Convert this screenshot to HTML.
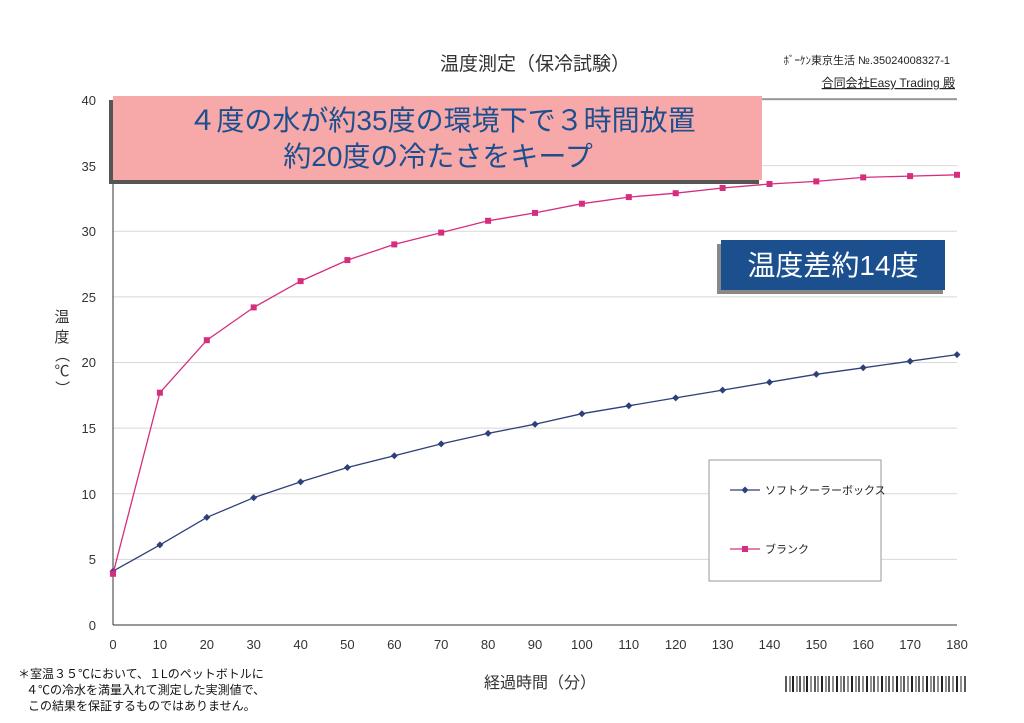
<!DOCTYPE html>
<html><head><meta charset="utf-8"><style>
html,body{margin:0;padding:0;background:#fff;}
svg{display:block;font-family:"Liberation Sans","Noto Sans CJK JP",sans-serif;}
</style></head><body>
<svg width="1024" height="723" viewBox="0 0 1024 723" xmlns="http://www.w3.org/2000/svg">
<rect width="1024" height="723" fill="#fff"/>
<text x="535" y="70" font-size="19" text-anchor="middle" fill="#333">温度測定（保冷試験）</text>
<text x="950" y="64" font-size="11" text-anchor="end" fill="#222">ﾎﾞｰｹﾝ東京生活 №.35024008327-1</text>
<text x="955" y="87" font-size="12" text-anchor="end" fill="#222" text-decoration="underline">合同会社Easy Trading 殿</text>
<line x1="762" y1="99" x2="957" y2="99" stroke="#555" stroke-width="1"/>
<!-- grid -->
<g stroke="#d8d8d8" stroke-width="1">
<line x1="113" y1="559.4" x2="957" y2="559.4"/><line x1="113" y1="493.8" x2="957" y2="493.8"/>
<line x1="113" y1="428.1" x2="957" y2="428.1"/><line x1="113" y1="362.5" x2="957" y2="362.5"/>
<line x1="113" y1="296.9" x2="957" y2="296.9"/><line x1="113" y1="231.3" x2="957" y2="231.3"/>
<line x1="113" y1="165.6" x2="957" y2="165.6"/><line x1="113" y1="100" x2="957" y2="100"/>
</g>
<line x1="113" y1="100" x2="113" y2="625" stroke="#333"/>
<line x1="113" y1="625" x2="957" y2="625" stroke="#333"/>
<g font-size="13" fill="#333" text-anchor="end">
<text x="96" y="630">0</text><text x="96" y="564">5</text><text x="96" y="499">10</text>
<text x="96" y="433">15</text><text x="96" y="367">20</text><text x="96" y="302">25</text>
<text x="96" y="236">30</text><text x="96" y="171">35</text><text x="96" y="105">40</text>
</g>
<g font-size="13" fill="#333" text-anchor="middle">
<text x="113" y="649">0</text><text x="159.9" y="649">10</text><text x="206.8" y="649">20</text>
<text x="253.7" y="649">30</text><text x="300.6" y="649">40</text><text x="347.4" y="649">50</text>
<text x="394.3" y="649">60</text><text x="441.2" y="649">70</text><text x="488.1" y="649">80</text>
<text x="535" y="649">90</text><text x="581.9" y="649">100</text><text x="628.8" y="649">110</text>
<text x="675.7" y="649">120</text><text x="722.6" y="649">130</text><text x="769.5" y="649">140</text>
<text x="816.3" y="649">150</text><text x="863.2" y="649">160</text><text x="910.1" y="649">170</text>
<text x="957" y="649">180</text>
</g>
<g font-size="15" fill="#333" text-anchor="middle">
<text x="62" y="322">温</text><text x="62" y="342">度</text>
<text x="62" y="360" transform="rotate(90 62 355)">（</text>
<text x="62" y="376">℃</text>
<text x="62" y="393" transform="rotate(90 62 388)">）</text>
</g>
<text x="540" y="688" font-size="16" text-anchor="middle" fill="#333">経過時間（分）</text>
<!-- series -->
<polyline fill="none" stroke="#2e3f7a" stroke-width="1.3" points="113,571.2 159.9,544.9 206.8,517.4 253.7,497.7 300.6,481.9 347.4,467.5 394.3,455.7 441.2,443.9 488.1,433.4 535,424.2 581.9,413.7 628.8,405.8 675.7,397.9 722.6,390.1 769.5,382.2 816.3,374.3 863.2,367.8 910.1,361.2 957,354.6"/>
<g fill="#2e3f7a">
<path d="M113 567.7l3.5 3.5-3.5 3.5-3.5-3.5z"/><path d="M159.9 541.4l3.5 3.5-3.5 3.5-3.5-3.5z"/><path d="M206.8 513.9l3.5 3.5-3.5 3.5-3.5-3.5z"/><path d="M253.7 494.2l3.5 3.5-3.5 3.5-3.5-3.5z"/><path d="M300.6 478.4l3.5 3.5-3.5 3.5-3.5-3.5z"/><path d="M347.4 464l3.5 3.5-3.5 3.5-3.5-3.5z"/><path d="M394.3 452.2l3.5 3.5-3.5 3.5-3.5-3.5z"/><path d="M441.2 440.4l3.5 3.5-3.5 3.5-3.5-3.5z"/><path d="M488.1 429.9l3.5 3.5-3.5 3.5-3.5-3.5z"/><path d="M535 420.7l3.5 3.5-3.5 3.5-3.5-3.5z"/><path d="M581.9 410.2l3.5 3.5-3.5 3.5-3.5-3.5z"/><path d="M628.8 402.3l3.5 3.5-3.5 3.5-3.5-3.5z"/><path d="M675.7 394.4l3.5 3.5-3.5 3.5-3.5-3.5z"/><path d="M722.6 386.6l3.5 3.5-3.5 3.5-3.5-3.5z"/><path d="M769.5 378.7l3.5 3.5-3.5 3.5-3.5-3.5z"/><path d="M816.3 370.8l3.5 3.5-3.5 3.5-3.5-3.5z"/><path d="M863.2 364.3l3.5 3.5-3.5 3.5-3.5-3.5z"/><path d="M910.1 357.7l3.5 3.5-3.5 3.5-3.5-3.5z"/><path d="M957 351.1l3.5 3.5-3.5 3.5-3.5-3.5z"/>
</g>
<polyline fill="none" stroke="#d62d7f" stroke-width="1.3" points="113,573.8 159.9,392.7 206.8,340.2 253.7,307.4 300.6,281.1 347.4,260.1 394.3,244.4 441.2,232.6 488.1,220.8 535,212.9 581.9,203.7 628.8,197.1 675.7,193.2 722.6,188 769.5,184 816.3,181.4 863.2,177.4 910.1,176.1 957,174.8"/>
<g fill="#d62d7f">
<rect x="110" y="570.8" width="6" height="6"/><rect x="156.9" y="389.7" width="6" height="6"/><rect x="203.8" y="337.2" width="6" height="6"/><rect x="250.7" y="304.4" width="6" height="6"/><rect x="297.6" y="278.1" width="6" height="6"/><rect x="344.4" y="257.1" width="6" height="6"/><rect x="391.3" y="241.4" width="6" height="6"/><rect x="438.2" y="229.6" width="6" height="6"/><rect x="485.1" y="217.8" width="6" height="6"/><rect x="532" y="209.9" width="6" height="6"/><rect x="578.9" y="200.7" width="6" height="6"/><rect x="625.8" y="194.1" width="6" height="6"/><rect x="672.7" y="190.2" width="6" height="6"/><rect x="719.6" y="185" width="6" height="6"/><rect x="766.5" y="181" width="6" height="6"/><rect x="813.3" y="178.4" width="6" height="6"/><rect x="860.2" y="174.4" width="6" height="6"/><rect x="907.1" y="173.1" width="6" height="6"/><rect x="954" y="171.8" width="6" height="6"/>
</g>
<!-- legend -->
<rect x="709" y="460" width="172" height="121" fill="#fff" stroke="#999"/>
<line x1="730" y1="490" x2="760" y2="490" stroke="#2e3f7a" stroke-width="1.3"/>
<path d="M745 486.5l3.5 3.5-3.5 3.5-3.5-3.5z" fill="#2e3f7a"/>
<text x="765" y="494" font-size="11" fill="#222">ソフトクーラーボックス</text>
<line x1="730" y1="549" x2="760" y2="549" stroke="#d62d7f" stroke-width="1.3"/>
<rect x="742" y="546" width="6" height="6" fill="#d62d7f"/>
<text x="765" y="553" font-size="11" fill="#222">ブランク</text>
<!-- pink callout -->
<rect x="109" y="100" width="650" height="84" fill="#555"/>
<rect x="113" y="96" width="649" height="84" fill="#f7a8a8"/>
<g font-size="28" fill="#1c4f8f" text-anchor="middle">
<text x="442" y="130">４度の水が約35度の環境下で３時間放置</text>
<text x="438" y="166">約20度の冷たさをキープ</text>
</g>
<!-- blue callout -->
<rect x="717" y="244" width="226" height="50" fill="#888"/>
<rect x="721" y="240" width="224" height="50" fill="#1b4f8e"/>
<text x="833" y="275" font-size="28" fill="#fff" text-anchor="middle">温度差約14度</text>
<!-- footnote -->
<g font-size="12" fill="#111">
<text x="18" y="678">＊室温３５℃において、１Lのペットボトルに</text>
<text x="26" y="694">４℃の冷水を満量入れて測定した実測値で、</text>
<text x="28" y="710">この結果を保証するものではありません。</text>
</g>
<!-- barcode -->
<g stroke="#222">
<line x1="786" y1="676" x2="786" y2="692" stroke-width="1.5"/><line x1="790" y1="676" x2="790" y2="692"/><line x1="793" y1="676" x2="793" y2="692" stroke-width="2"/><line x1="797" y1="676" x2="797" y2="692"/><line x1="800" y1="676" x2="800" y2="692" stroke-width="1.5"/><line x1="804" y1="676" x2="804" y2="692"/><line x1="807" y1="676" x2="807" y2="692" stroke-width="2"/><line x1="811" y1="676" x2="811" y2="692"/><line x1="815" y1="676" x2="815" y2="692" stroke-width="1.5"/><line x1="818" y1="676" x2="818" y2="692"/><line x1="822" y1="676" x2="822" y2="692" stroke-width="2"/><line x1="826" y1="676" x2="826" y2="692"/><line x1="829" y1="676" x2="829" y2="692" stroke-width="1.5"/><line x1="833" y1="676" x2="833" y2="692"/><line x1="837" y1="676" x2="837" y2="692" stroke-width="2"/><line x1="841" y1="676" x2="841" y2="692"/><line x1="844" y1="676" x2="844" y2="692" stroke-width="1.5"/><line x1="848" y1="676" x2="848" y2="692"/><line x1="852" y1="676" x2="852" y2="692" stroke-width="2"/><line x1="856" y1="676" x2="856" y2="692"/><line x1="859" y1="676" x2="859" y2="692" stroke-width="1.5"/><line x1="863" y1="676" x2="863" y2="692"/><line x1="867" y1="676" x2="867" y2="692" stroke-width="2"/><line x1="871" y1="676" x2="871" y2="692"/><line x1="874" y1="676" x2="874" y2="692" stroke-width="1.5"/><line x1="878" y1="676" x2="878" y2="692"/><line x1="882" y1="676" x2="882" y2="692" stroke-width="2"/><line x1="886" y1="676" x2="886" y2="692"/><line x1="889" y1="676" x2="889" y2="692" stroke-width="1.5"/><line x1="893" y1="676" x2="893" y2="692"/><line x1="897" y1="676" x2="897" y2="692" stroke-width="2"/><line x1="901" y1="676" x2="901" y2="692"/><line x1="904" y1="676" x2="904" y2="692" stroke-width="1.5"/><line x1="908" y1="676" x2="908" y2="692"/><line x1="912" y1="676" x2="912" y2="692" stroke-width="2"/><line x1="916" y1="676" x2="916" y2="692"/><line x1="919" y1="676" x2="919" y2="692" stroke-width="1.5"/><line x1="923" y1="676" x2="923" y2="692"/><line x1="927" y1="676" x2="927" y2="692" stroke-width="2"/><line x1="931" y1="676" x2="931" y2="692"/><line x1="934" y1="676" x2="934" y2="692" stroke-width="1.5"/><line x1="938" y1="676" x2="938" y2="692"/><line x1="942" y1="676" x2="942" y2="692" stroke-width="2"/><line x1="946" y1="676" x2="946" y2="692"/><line x1="949" y1="676" x2="949" y2="692" stroke-width="1.5"/><line x1="953" y1="676" x2="953" y2="692"/><line x1="957" y1="676" x2="957" y2="692" stroke-width="2"/><line x1="961" y1="676" x2="961" y2="692"/><line x1="965" y1="676" x2="965" y2="692" stroke-width="1.5"/>
</g>
</svg>
</body></html>
